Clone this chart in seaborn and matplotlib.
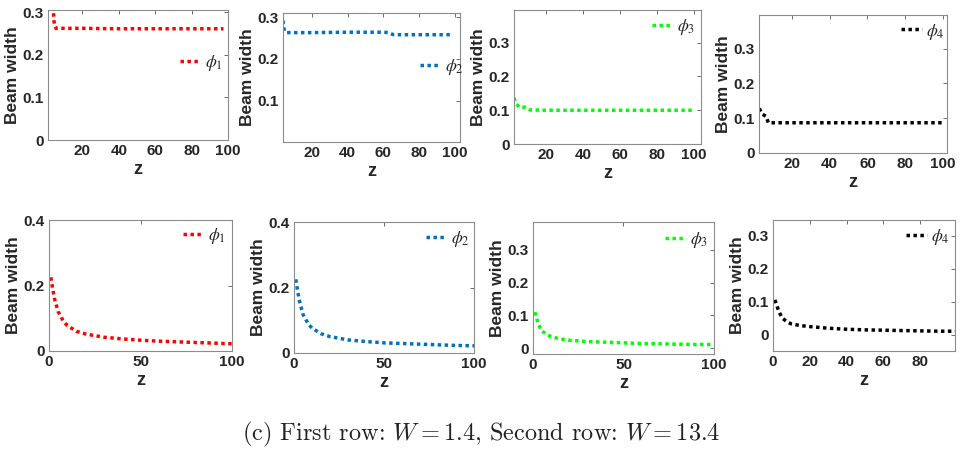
import matplotlib
matplotlib.use("Agg")
import matplotlib.pyplot as plt
import seaborn as sns
import pandas as pd
from matplotlib.font_manager import FontProperties

# ---------------- data ----------------
labels = [r"$\phi_1$", r"$\phi_2$", r"$\phi_3$", r"$\phi_4$"]
colors = ["#ff0000", "#0072bd", "#00ff00", "#000000"]

# first row, W = 1.4
z_top1 = [3.9, 4.1, 4.6, 5.5, 20, 40, 60, 80, 97.5]
w_top1 = [0.33, 0.30, 0.268, 0.262, 0.262, 0.261, 0.261, 0.261, 0.261]
z_top2 = [3.7, 4.0, 4.6, 5.5, 20, 40, 60, 63, 65, 66, 80, 99]
w_top2 = [0.292, 0.278, 0.266, 0.263, 0.263, 0.264, 0.264, 0.263, 0.259, 0.258, 0.258, 0.258]
z_top3 = [2.7, 3.8, 5.4, 8.6, 11.4, 20, 40, 60, 80, 100]
w_top3 = [0.137, 0.120, 0.110, 0.109, 0.101, 0.100, 0.100, 0.100, 0.100, 0.100]
z_top4 = [2.8, 4.4, 6.5, 7.6, 20, 40, 60, 80, 100]
w_top4 = [0.128, 0.112, 0.105, 0.087, 0.087, 0.087, 0.087, 0.087, 0.087]

# second row, W = 13.4
z_bot = [1, 2, 3, 5, 8, 10, 15, 20, 30, 40, 50, 60, 70, 80, 90, 100]
w_bot1 = [0.225, 0.190, 0.160, 0.120, 0.090, 0.078, 0.060, 0.052, 0.042, 0.037,
          0.033, 0.030, 0.028, 0.026, 0.024, 0.022]
w_bot2 = [0.225, 0.190, 0.160, 0.118, 0.088, 0.076, 0.059, 0.050, 0.040, 0.035,
          0.031, 0.029, 0.027, 0.025, 0.023, 0.022]
w_bot3 = [0.110, 0.092, 0.072, 0.052, 0.040, 0.035, 0.028, 0.024, 0.020, 0.018,
          0.016, 0.014, 0.013, 0.012, 0.011, 0.011]
w_bot4 = [0.105, 0.090, 0.072, 0.050, 0.037, 0.032, 0.027, 0.024, 0.019, 0.016,
          0.014, 0.013, 0.012, 0.011, 0.010, 0.010]

caption = r"(c) First row: $W = 1.4$, Second row: $W = 13.4$"

# ---------------- style ----------------
sns.set_theme(style="white")
plt.rcParams["font.family"] = ["Liberation Sans", "DejaVu Sans"]

W, H = 962, 453
fig = plt.figure(figsize=(W / 100, H / 100), dpi=100)

# axes boxes in pixels: left, top, right, bottom
boxes = [
    (48, 10, 228, 140), (283, 13, 460, 142), (514, 10, 701, 144), (759, 15, 947, 153),
    (49, 220, 232, 351), (294, 222, 474, 353), (533, 222, 714, 354), (773, 220, 955, 351),
]
series = [
    (z_top1, w_top1), (z_top2, w_top2), (z_top3, w_top3), (z_top4, w_top4),
    (z_bot, w_bot1), (z_bot, w_bot2), (z_bot, w_bot3), (z_bot, w_bot4),
]
xlims = [(1.1, 100), (3.7, 103), (2.7, 104), (2.7, 102),
         (0, 100), (0, 100), (0, 100), (0, 99)]
ylims = [(0, 0.305), (0.001, 0.31), (0, 0.397), (0, 0.397),
         (0, 0.4), (0, 0.4), (-0.018, 0.385), (-0.05, 0.347)]
xticks = [[20, 40, 60, 80, 100]] * 4 + [[0, 50, 100]] * 3 + [[0, 20, 40, 60, 80]]
yticks = [[0, 0.1, 0.2, 0.3], [0.1, 0.2, 0.3], [0, 0.1, 0.2, 0.3], [0, 0.1, 0.2, 0.3],
          [0, 0.2, 0.4], [0, 0.2, 0.4], [0, 0.1, 0.2, 0.3], [0, 0.1, 0.2, 0.3]]
leg_pos = [(0.97, 0.59), (1.02, 0.58), (0.97, 0.87), (0.99, 0.88),
           (0.965, 0.88), (0.975, 0.87), (0.97, 0.86), (0.97, 0.87)]

legprop = FontProperties(family="DejaVu Serif", size=12.5, math_fontfamily="stix")

for i, (box, (z, w)) in enumerate(zip(boxes, series)):
    l, t, r, b = box
    ax = fig.add_axes([l / W, 1 - b / H, (r - l) / W, (b - t) / H])
    df = pd.DataFrame({"z": z, "w": w})
    sns.lineplot(data=df, x="z", y="w", ax=ax, color=colors[i % 4],
                 linewidth=2.5, label=labels[i % 4], legend=False)
    line = ax.lines[-1]
    line.set_dashes((1.0, 1.0))
    line.set_dash_capstyle("butt")
    ax.set_xlim(*xlims[i])
    ax.set_ylim(*ylims[i])
    ax.set_xticks(xticks[i])
    ax.set_yticks(yticks[i])
    ax.set_xticklabels([f"{v:g}" for v in xticks[i]])
    ax.set_yticklabels([f"{v:g}" for v in yticks[i]])
    ax.tick_params(direction="in", length=3, width=0.6, color="#555555",
                   top=True, right=True, labelsize=11, pad=3,
                   labelcolor="#262626")
    for lab in ax.get_xticklabels() + ax.get_yticklabels():
        lab.set_fontweight("bold")
    for sp in ax.spines.values():
        sp.set_color("#8c8c8c")
        sp.set_linewidth(0.8)
    ax.set_xlabel("z", fontsize=13, fontweight="bold", color="#262626", labelpad=2)
    ax.set_ylabel("Beam width", fontsize=12.5, fontweight="bold", color="#262626", labelpad=2)
    leg = ax.legend(handles=[line], labels=[labels[i % 4]], loc="center right",
                    bbox_to_anchor=leg_pos[i], frameon=False, prop=legprop,
                    handlelength=1.2, handletextpad=0.25, borderpad=0, borderaxespad=0)

fig.text(0.5, 1 - 434 / H, caption, ha="center", va="center", fontsize=17.5,
         family=["cmr10", "DejaVu Serif"], math_fontfamily="cm", color="#222222")

fig.savefig("out.png", dpi=100)
